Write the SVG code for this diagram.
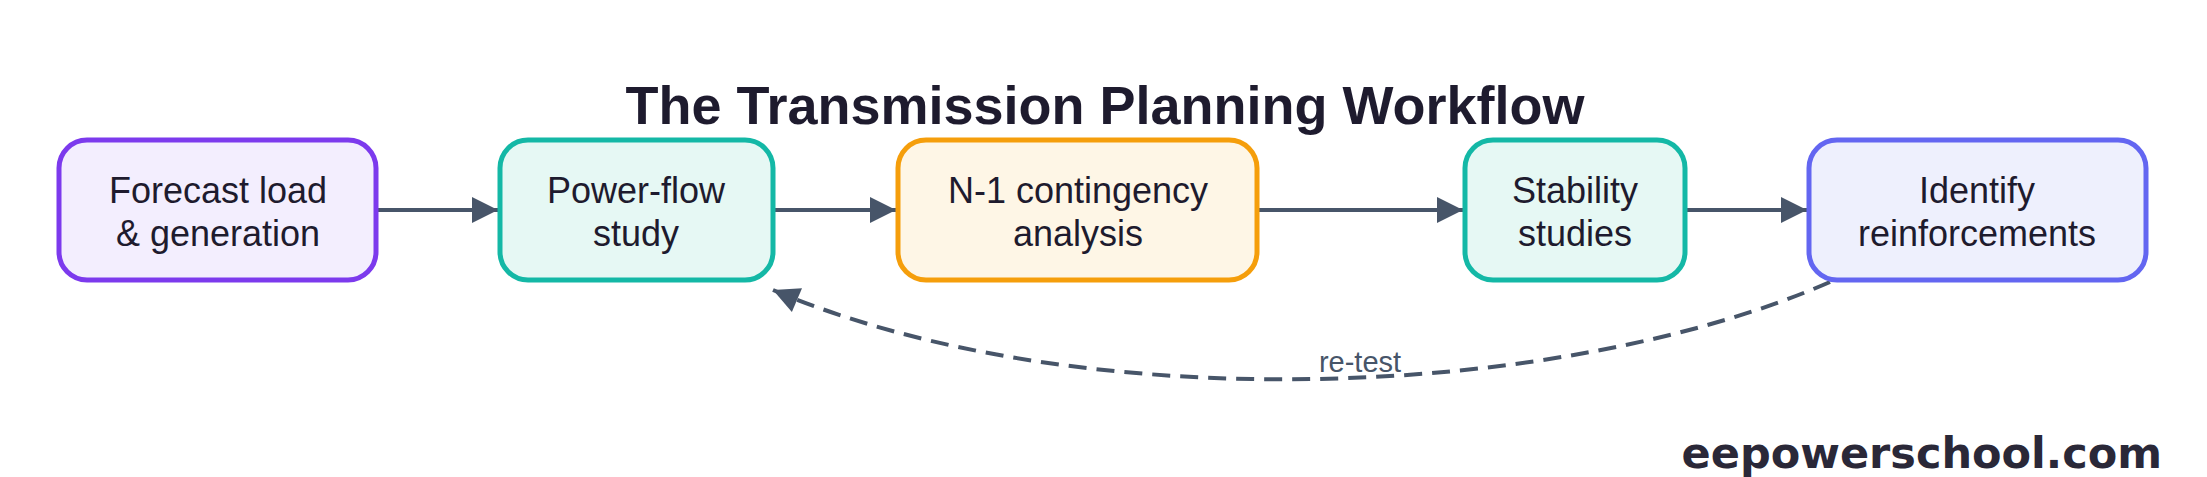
<svg xmlns="http://www.w3.org/2000/svg" width="2207" height="477" viewBox="0 0 2207 477">
<style>
.n rect{stroke-width:5}
.t{font-family:"Liberation Sans",Arial,sans-serif;font-size:36px;fill:#1e1b2e;text-anchor:middle}
.c{stroke:#475569;stroke-width:4;fill:none}
</style>
<defs>
<marker id="h" viewBox="0 0 10 10" refX="10" refY="5" markerWidth="32" markerHeight="26" markerUnits="userSpaceOnUse" orient="auto"><path d="M0,0 L10,5 L0,10 Z" fill="#475569"/></marker>
</defs>
<rect width="2207" height="477" fill="#fff"/>
<text x="1105" y="124" font-family="Liberation Sans,Arial,sans-serif" font-weight="bold" font-size="54" fill="#1e1b2e" text-anchor="middle">The Transmission Planning Workflow</text>
<g id="connectors">
<line class="c" x1="378" y1="210" x2="498" y2="210" marker-end="url(#h)"/>
<line class="c" x1="775" y1="210" x2="896" y2="210" marker-end="url(#h)"/>
<line class="c" x1="1259" y1="210" x2="1463" y2="210" marker-end="url(#h)"/>
<line class="c" x1="1687" y1="210" x2="1807" y2="210" marker-end="url(#h)"/>
<path class="c" d="M1830,282 C1560,400 1080,420 773,290" stroke-dasharray="18,10" marker-end="url(#h)"/>
<text x="1360" y="372" font-family="Liberation Sans,Arial,sans-serif" font-size="29" fill="#475569" text-anchor="middle">re-test</text>
</g>
<g id="n1" class="n"><rect x="59" y="140" width="317" height="140" rx="28" fill="#f3eefe" stroke="#7c3aed"/><text class="t" x="218" y="203">Forecast load</text><text class="t" x="218" y="246">&amp; generation</text></g>
<g id="n2" class="n"><rect x="500" y="140" width="273" height="140" rx="28" fill="#e6f8f4" stroke="#14b8a6"/><text class="t" x="636" y="203">Power-flow</text><text class="t" x="636" y="246">study</text></g>
<g id="n3" class="n"><rect x="898" y="140" width="359" height="140" rx="28" fill="#fef6e6" stroke="#f59e0b"/><text class="t" x="1078" y="203">N-1 contingency</text><text class="t" x="1078" y="246">analysis</text></g>
<g id="n4" class="n"><rect x="1465" y="140" width="220" height="140" rx="28" fill="#e6f8f4" stroke="#14b8a6"/><text class="t" x="1575" y="203">Stability</text><text class="t" x="1575" y="246">studies</text></g>
<g id="n5" class="n"><rect x="1809" y="140" width="337" height="140" rx="28" fill="#eef0fd" stroke="#6366f1"/><text class="t" x="1977" y="203">Identify</text><text class="t" x="1977" y="246">reinforcements</text></g>
<text x="2162" y="468" font-family="DejaVu Sans,sans-serif" font-weight="bold" font-size="43" fill="#2a2838" text-anchor="end">eepowerschool.com</text>
</svg>
